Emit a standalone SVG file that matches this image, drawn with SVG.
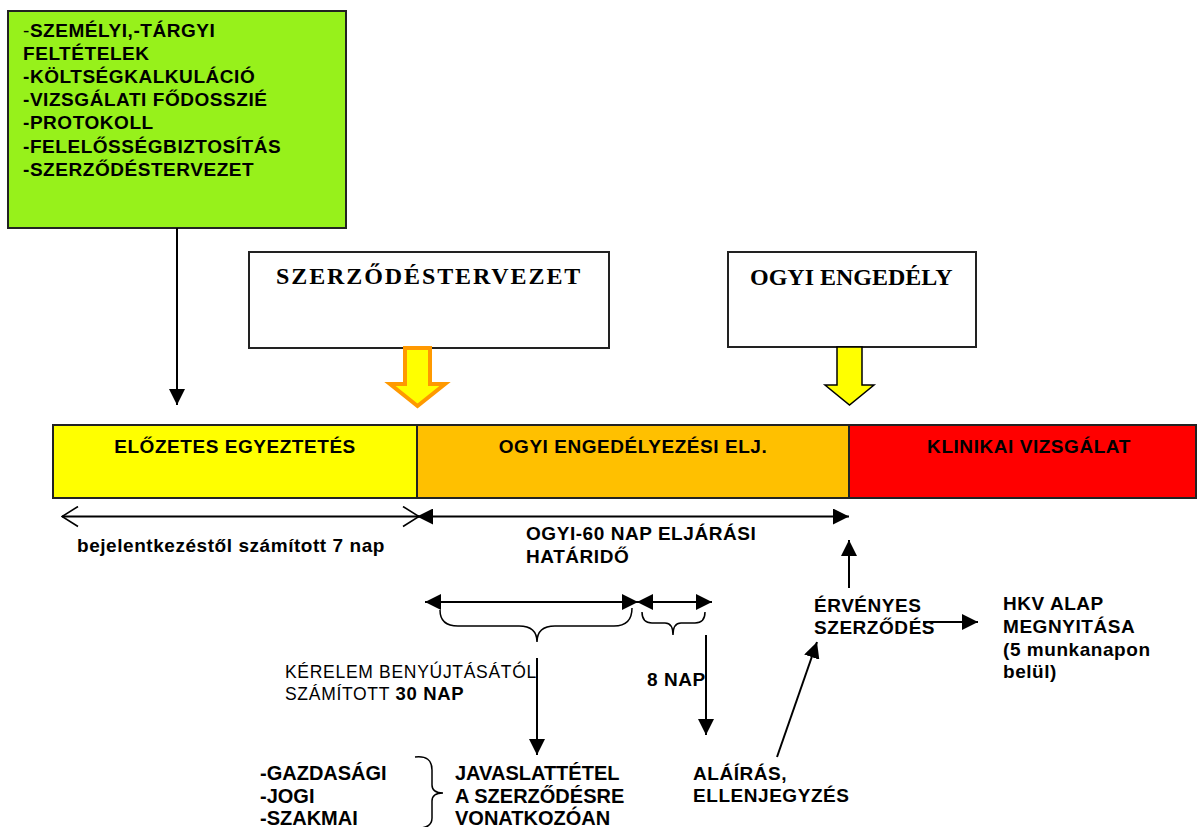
<svg xmlns="http://www.w3.org/2000/svg" width="1198" height="827" viewBox="0 0 1198 827">
<defs>
<style>
.b{font-family:"Liberation Sans",Arial,sans-serif;font-weight:bold;font-size:19px;letter-spacing:0.55px;fill:#000}
.b20{font-family:"Liberation Sans",Arial,sans-serif;font-weight:bold;font-size:20px;fill:#000}
.r{font-family:"Liberation Sans",Arial,sans-serif;font-size:17.5px;letter-spacing:0.7px;fill:#000}
.t{font-family:"Liberation Serif","Times New Roman",serif;font-weight:bold;font-size:24px;fill:#000}
.box{stroke:#222;stroke-width:2}
.ln{stroke:#000;stroke-width:2;fill:none}
.br{stroke:#000;stroke-width:1.5;fill:none}
</style>
<marker id="ah" viewBox="0 0 16 16" refX="16" refY="8" markerWidth="16" markerHeight="16" markerUnits="userSpaceOnUse" orient="auto-start-reverse"><path d="M0,0 L16,8 L0,16 z" fill="#000"/></marker>
<marker id="oh" viewBox="0 0 18 22" refX="17" refY="11" markerWidth="18" markerHeight="22" markerUnits="userSpaceOnUse" orient="auto-start-reverse"><path d="M1,1 L17,11 L1,21" fill="none" stroke="#000" stroke-width="1.6"/></marker>
</defs>

<g id="feltetelek">
<rect class="box" x="8" y="11" width="338" height="217" fill="#97F11B"/>
<text class="b" x="23" y="36.5"><tspan font-weight="normal">-</tspan>SZEMÉLYI,-TÁRGYI</text>
<text class="b" x="23" y="59.7">FELTÉTELEK</text>
<text class="b" x="23" y="82.9">-KÖLTSÉGKALKULÁCIÓ</text>
<text class="b" x="23" y="106.1">-VIZSGÁLATI FŐDOSSZIÉ</text>
<text class="b" x="23" y="129.3">-PROTOKOLL</text>
<text class="b" x="23" y="152.5">-FELELŐSSÉGBIZTOSÍTÁS</text>
<text class="b" x="23" y="175.7">-SZERZŐDÉSTERVEZET</text>
</g>

<g id="szerzodestervezet">
<rect class="box" x="249" y="252" width="360" height="96" fill="#fff"/>
<text class="t" x="276" y="284" font-size="25" letter-spacing="1.9">SZERZŐDÉSTERVEZET</text>
<path d="M405,348 L430,348 L430,384 L445,384 L417.5,406 L390,384 L405,384 Z" fill="#FFFF00" stroke="#FF9900" stroke-width="4" stroke-linejoin="miter"/>
</g>

<g id="ogyi-engedely">
<rect class="box" x="728" y="252" width="248" height="95" fill="#fff"/>
<text class="t" x="750" y="285" font-size="23.5">OGYI ENGEDÉLY</text>
<path d="M837,347 L862,347 L862,385 L874,385 L849.5,405 L825,385 L837,385 Z" fill="#FFFF00" stroke="#000" stroke-width="1.5"/>
</g>

<g id="elozetes">
<rect class="box" x="53" y="425" width="364" height="73" fill="#FFFF00"/>
<text class="b" x="235" y="453" text-anchor="middle">ELŐZETES EGYEZTETÉS</text>
</g>
<g id="ogyi-eljaras">
<rect class="box" x="417" y="425" width="432" height="73" fill="#FFC000"/>
<text class="b" x="633" y="453" text-anchor="middle">OGYI ENGEDÉLYEZÉSI ELJ.</text>
</g>
<g id="klinikai">
<rect class="box" x="849" y="425" width="347" height="73" fill="#FF0000"/>
<text class="b" x="1029" y="453" text-anchor="middle">KLINIKAI VIZSGÁLAT</text>
</g>

<g id="labels">
<text class="b" x="77" y="552" letter-spacing="0.45">bejelentkezéstől számított 7 nap</text>
<text class="b" x="526" y="540">OGYI-60 NAP ELJÁRÁSI</text>
<text class="b" x="526" y="563">HATÁRIDŐ</text>
<text class="r" x="285" y="678">KÉRELEM BENYÚJTÁSÁTÓL</text>
<text class="r" x="285" y="700">SZÁMÍTOTT <tspan font-weight="bold" font-size="18.5px">30 NAP</tspan></text>
<text class="b" x="647" y="686" font-size="18" letter-spacing="0">8 NAP</text>
</g>

<g id="szempontok">
<text class="b20" x="260" y="780">-GAZDASÁGI</text>
<text class="b20" x="260" y="803">-JOGI</text>
<text class="b20" x="260" y="825">-SZAKMAI</text>
<path class="br" d="M415,757 Q432,755 432,770 L432,785 Q432,793 443,793 Q432,793 432,801 L432,818 Q432,829 415,828"/>
</g>

<g id="javaslattetel">
<text class="b20" x="455" y="780">JAVASLATTÉTEL</text>
<text class="b20" x="455" y="803">A SZERZŐDÉSRE</text>
<text class="b20" x="455" y="825">VONATKOZÓAN</text>
</g>

<g id="alairas">
<text class="b" x="693" y="780">ALÁÍRÁS,</text>
<text class="b" x="693" y="802">ELLENJEGYZÉS</text>
</g>

<g id="ervenyes">
<text class="b" x="814" y="612">ÉRVÉNYES</text>
<text class="b" x="814" y="634">SZERZŐDÉS</text>
</g>

<g id="hkv">
<text class="b" x="1003" y="610">HKV ALAP</text>
<text class="b" x="1003" y="633">MEGNYITÁSA</text>
<text class="b" x="1003" y="656">(5 munkanapon</text>
<text class="b" x="1003" y="678">belül)</text>
</g>

<g id="connectors">
<line class="ln" x1="177" y1="228" x2="177" y2="405" marker-end="url(#ah)"/>
<line class="ln" x1="62" y1="516.5" x2="419" y2="516.5" marker-start="url(#oh)" marker-end="url(#oh)"/>
<line class="ln" x1="417" y1="516.5" x2="849" y2="516.5" marker-start="url(#ah)" marker-end="url(#ah)"/>
<line class="ln" x1="849" y1="588" x2="849" y2="540" marker-end="url(#ah)"/>
<line class="ln" x1="425" y1="602" x2="638" y2="602" marker-start="url(#ah)" marker-end="url(#ah)"/>
<line class="ln" x1="637" y1="602" x2="712" y2="602" marker-start="url(#ah)" marker-end="url(#ah)"/>
<path class="br" d="M440,610 Q440,626 458,626 L519,626 Q537,626 537,642 Q537,626 555,626 L614,626 Q632,626 632,608"/>
<path class="br" d="M642,612 Q642,623 652,623 L665,623 Q673,623 673,635 Q673,623 681,623 L695,623 Q705,623 705,612"/>
<line class="ln" x1="537" y1="658" x2="537" y2="755" marker-end="url(#ah)"/>
<line class="ln" x1="706" y1="635" x2="706" y2="735" marker-end="url(#ah)"/>
<line class="ln" x1="777" y1="757" x2="817" y2="642" marker-end="url(#ah)"/>
<line class="ln" x1="923" y1="622" x2="978" y2="622" marker-end="url(#ah)"/>
</g>
</svg>
